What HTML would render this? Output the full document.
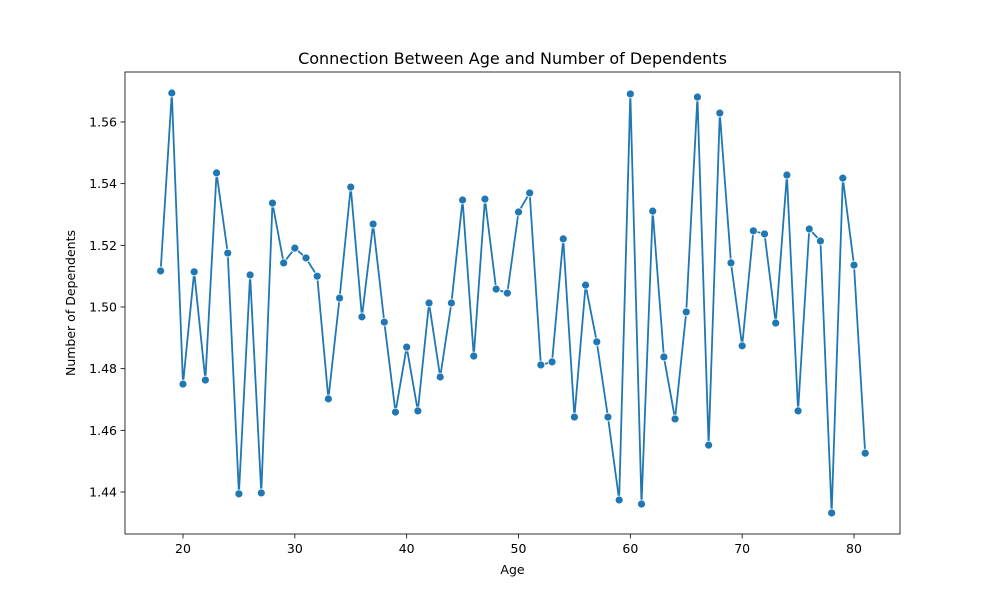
<!DOCTYPE html>
<html><head><meta charset="utf-8"><style>
body{margin:0;background:#fff;font-family:"Liberation Sans","DejaVu Sans",sans-serif}
text{font-family:"DejaVu Sans","Liberation Sans",sans-serif}
</style></head><body>
<svg id="chart" width="1000" height="600">
<rect width="1000" height="600" fill="#fff"/>
</svg>
<script>
const ages=[18,19,20,21,22,23,24,25,26,27,28,29,30,31,32,33,34,35,36,37,38,39,40,41,42,43,44,45,46,47,48,49,50,51,52,53,54,55,56,57,58,59,60,61,62,63,64,65,66,67,68,69,70,71,72,73,74,75,76,77,78,79,80,81];
const dependents=[1.5117,1.5694,1.475,1.5114,1.4763,1.5435,1.5175,1.4394,1.5104,1.4397,1.5337,1.5143,1.5191,1.5159,1.51,1.4702,1.5029,1.5389,1.4968,1.5269,1.4951,1.4659,1.487,1.4663,1.5013,1.4773,1.5013,1.5347,1.4841,1.535,1.5058,1.5045,1.5308,1.537,1.4812,1.4822,1.5221,1.4643,1.5071,1.4887,1.4643,1.4374,1.5691,1.4361,1.5311,1.4838,1.4637,1.4984,1.5681,1.4552,1.5629,1.5143,1.4874,1.5247,1.5237,1.4948,1.5428,1.4663,1.5253,1.5214,1.4332,1.5418,1.5136,1.4526];
const xTicks=[20,30,40,50,60,70,80];
const yTicks=[1.44,1.46,1.48,1.50,1.52,1.54,1.56];
const NS="http://www.w3.org/2000/svg";
const svg=document.getElementById('chart');
const L=125,R=900,T=72,B=534;
const xs=v=>183+(v-20)*(854-183)/60;
const ys=v=>492-(v-1.44)*(370/0.12);
function mk(tag,attrs,parent){const e=document.createElementNS(NS,tag);for(const k in attrs)e.setAttribute(k,attrs[k]);(parent||svg).appendChild(e);return e;}
const title=mk('text',{x:512.5,y:64,'text-anchor':'middle','font-size':16,fill:'#000'});title.textContent='Connection Between Age and Number of Dependents';


xTicks.forEach(t=>{const x=xs(t);
 const l=mk('line',{x1:x,x2:x,y1:B,y2:B+4.5,stroke:'#000','stroke-width':0.8});
 
 
 const tx=mk('text',{x:x,y:B+19,'text-anchor':'middle','font-size':12.5});tx.textContent=t;
 
 });
yTicks.forEach(t=>{const y=ys(t);
 const l=mk('line',{x1:L-4.5,x2:L,y1:y,y2:y,stroke:'#000','stroke-width':0.8});
 
 
 const tx=mk('text',{x:L-8,y:y+4.5,'text-anchor':'end','font-size':12.5});tx.textContent=t.toFixed(2);
 
 });
const xl=mk('text',{x:512.5,y:574,'text-anchor':'middle','font-size':12.5});xl.textContent='Age';


const yl=mk('text',{x:0,y:0,'text-anchor':'middle','font-size':12.5,transform:'translate(75,303) rotate(-90)'});yl.textContent='Number of Dependents';


const line=mk('polyline',{points:ages.map((a,i)=>xs(a)+','+ys(dependents[i])).join(' '),fill:'none',stroke:'#1f77b4','stroke-width':1.8,'stroke-linejoin':'round'});


ages.forEach((a,i)=>{const c=mk('circle',{cx:xs(a),cy:ys(dependents[i]),r:4,fill:'#1f77b4',stroke:'#fff','stroke-width':0.8});
 
 });
const frame=mk('rect',{x:L,y:T,width:R-L,height:B-T,fill:'none',stroke:'#000','stroke-width':0.8});


</script>
</body></html>
